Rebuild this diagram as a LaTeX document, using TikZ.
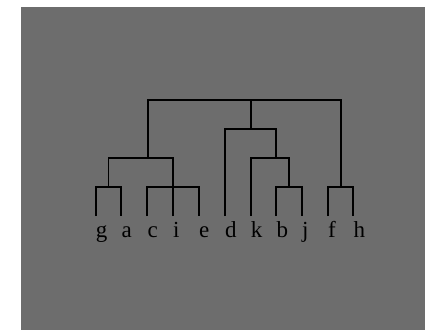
\documentclass[tikz,border=0pt]{standalone}
\usepackage{fontspec}
\setmainfont{Liberation Serif}
\usepackage{tikz}

\begin{document}
\begin{tikzpicture}[x=1pt, y=-1pt,
		branch/.style={draw=black, line width=1.9pt},
		leaf/.style={anchor=base west, inner sep=0pt, font=\fontsize{23}{23}\selectfont}]
		\definecolor{bggray}{RGB}{109,109,109}
		\def\ya{216}\def\yb{186.7}\def\yc{158.3}\def\yd{129}\def\ye{100}
		\useasboundingbox (0,0) rectangle (425,330);
		\fill[bggray] (20.5,6.7) rectangle (425,330);
		% leaves and their labels
		\foreach \n/\x in {g/95.7,a/121.3,c/147.3,i/173,e/199,d/225,k/250.7,b/276.3,j/302,f/328,h/353.3} {
			\coordinate (\n) at (\x,\ya);
			\node[leaf] (lab-\n) at (\x,237) {\n};
		}
		% merge points
		\coordinate (ga) at (108.5,\yb);
		\coordinate (cie) at (173,\yb);
		\coordinate (bj) at (289.2,\yb);
		\coordinate (fh) at (340.7,\yb);
		\coordinate (left) at (147.7,\yc);
		\coordinate (kbj) at (276.3,\yc);
		\coordinate (mid) at (250.7,\yd);
		\coordinate (root) at (250.7,\ye);
		% first level
		\draw[branch] (g) |- (ga) -| (a);
		\draw[branch] (c) |- (cie) -| (e);
		\draw[branch] (i) -- (cie);
		\draw[branch] (b) |- (bj) -| (j);
		\draw[branch] (f) |- (fh) -| (h);
		% upper levels
		\draw[branch] (ga) |- (left) -| (cie);
		\draw[branch] (k) |- (kbj) -| (bj);
		\draw[branch] (d) |- (mid) -| (kbj);
		\draw[branch] (left) |- (root) -| (fh);
		\draw[branch] (mid) -- (root);
	\end{tikzpicture}
\end{document}
